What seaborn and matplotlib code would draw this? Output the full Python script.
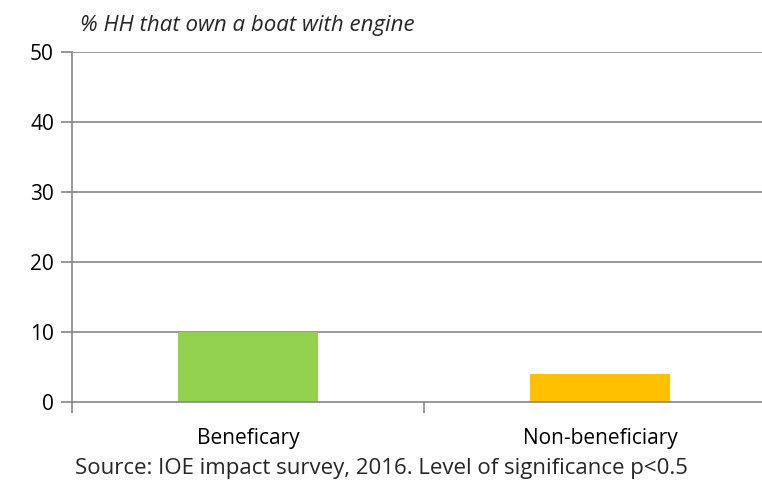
import matplotlib
matplotlib.use("Agg")
import matplotlib.pyplot as plt
import seaborn as sns
import pandas as pd

# chart data
groups = ["Beneficary", "Non-beneficiary"]
pct_boat_engine = [10, 4]
bar_colors = ["#92D050", "#FFC000"]
y_ticks = [0, 10, 20, 30, 40, 50]

sns.set_theme(style="white")
plt.rcParams["font.family"] = ["Open Sans", "DejaVu Sans"]

df = pd.DataFrame({"group": groups, "pct": pct_boat_engine})

fig = plt.figure(figsize=(7.62, 4.90), dpi=100)
ax = fig.add_axes([72 / 762, 88 / 490, 704 / 762, 350 / 490])

grid_col = "#868686"
for t in y_ticks[1:]:
    ax.axhline(t, color=grid_col, lw=1.2, zorder=0)

sns.barplot(data=df, x="group", y="pct", hue="group", palette=bar_colors,
            width=0.4, legend=False, ax=ax, zorder=2, saturation=1,
            linewidth=0)

ax.set_xlim(-0.5, 1.5)
ax.set_ylim(0, 50)
ax.set_yticks(y_ticks)
ax.set_xlabel("")
ax.set_ylabel("")

for s in ["top", "right"]:
    ax.spines[s].set_visible(False)
for s in ["left", "bottom"]:
    ax.spines[s].set_color(grid_col)
    ax.spines[s].set_linewidth(1.2)

ax.tick_params(axis="y", length=8, width=1.2, color=grid_col, pad=5,
               labelsize=15, labelcolor="#000000", direction="out", left=True)
ax.tick_params(axis="x", which="major", length=0, pad=19, labelsize=15,
               labelcolor="#000000")
ax.set_xticks([-0.5, 0.5, 1.5], minor=True)
ax.tick_params(axis="x", which="minor", length=8, width=1.2, color=grid_col,
               direction="out", bottom=True)

fig.text(80 / 762, 1 - 26 / 490, "% HH that own a boat with engine",
         style="italic", fontsize=16, va="center", ha="left")
fig.text(381 / 762, 1 - 468 / 490,
         "Source: IOE impact survey, 2016. Level of significance p<0.5",
         fontsize=16, va="center", ha="center")

fig.savefig("out.png", dpi=100)
